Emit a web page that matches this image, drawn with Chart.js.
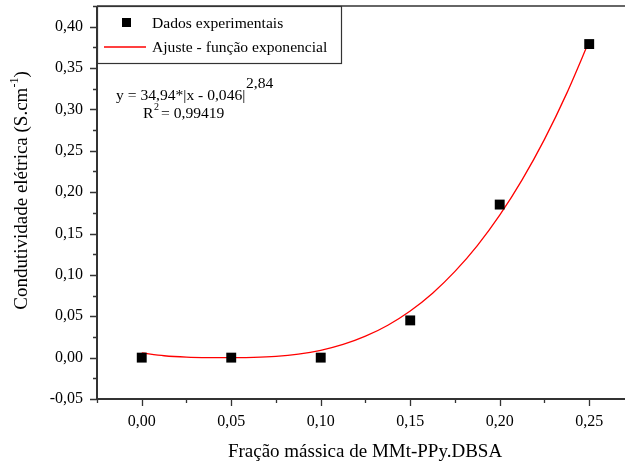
<!DOCTYPE html>
<html>
<head>
<meta charset="utf-8">
<script src="https://cdn.jsdelivr.net/npm/chart.js@4.4.1/dist/chart.umd.min.js"></script>
<style>
  html, body { margin: 0; padding: 0; background: #fff; }
  #wrap { width: 625px; height: 463px; position: relative; }
</style>
</head>
<body>
<div id="wrap"><canvas id="chart"></canvas></div>
<script>
// measured points
const fracX = [0, 0.05, 0.10, 0.15, 0.20, 0.25]
const condY = [0, 0, 0, 0.045, 0.185, 0.379]

// fitted curve
const fitX = [0, 0.0125, 0.025, 0.0375, 0.05, 0.0625, 0.075, 0.0875, 0.1, 0.1125, 0.125,
  0.1375, 0.15, 0.1625, 0.175, 0.1875, 0.2, 0.2125, 0.225, 0.2375, 0.25]
const fitY = [0.0056, 0.0023, 0.0006, 0.0000, 0.0000, 0.0003, 0.0015, 0.0042, 0.0088, 0.0159, 0.0259,
  0.0392, 0.0564, 0.0779, 0.1042, 0.1354, 0.1722, 0.2149, 0.2638, 0.3197, 0.3826]

const xTicks = [0, 0.05, 0.10, 0.15, 0.20, 0.25]
const yTicks = [-0.05, 0, 0.05, 0.10, 0.15, 0.20, 0.25, 0.30, 0.35, 0.40]

const serif = "'Liberation Serif', 'Times New Roman', serif"
const axisColor = "#333"

function fmt(v) {
  return v.toFixed(2).replace(".", ",").replace("-0,00", "0,00")
}

function noPad(s) {
  s.paddingLeft = 0
  s.paddingRight = 0
  s.paddingTop = 0
  s.paddingBottom = 0
}

// axis lines, tick marks, titles, legend box and fit equation
const decor = {
  id: "decor",
  afterDraw(chart) {
    const { ctx, chartArea: a, scales } = chart
    const xs = scales.x, ys = scales.y
    ctx.save()
    ctx.strokeStyle = axisColor
    ctx.lineWidth = 2
    ctx.beginPath()
    ctx.moveTo(a.left, a.top)
    ctx.lineTo(a.left, a.bottom)
    ctx.lineTo(a.right, a.bottom)
    ctx.stroke()
    ctx.lineWidth = 1.5
    ctx.beginPath()
    ctx.moveTo(a.left, a.top)
    ctx.lineTo(a.right, a.top)
    ctx.stroke()

    ctx.lineWidth = 1.3
    ctx.beginPath()
    yTicks.forEach((v) => {
      const py = Math.round(ys.getPixelForValue(v)) + 0.5
      ctx.moveTo(a.left, py); ctx.lineTo(a.left - 7, py)
      const pm = Math.round(ys.getPixelForValue(v + 0.025)) + 0.5
      if (pm > a.top) { ctx.moveTo(a.left, pm); ctx.lineTo(a.left - 4, pm) }
    })
    xTicks.forEach((v) => {
      const px = Math.round(xs.getPixelForValue(v)) + 0.5
      ctx.moveTo(px, a.bottom); ctx.lineTo(px, a.bottom + 7)
      const pm = Math.round(xs.getPixelForValue(v - 0.025)) + 0.5
      ctx.moveTo(pm, a.bottom); ctx.lineTo(pm, a.bottom + 4)
    })
    ctx.stroke()

    // axis titles
    ctx.fillStyle = "#000"
    ctx.font = "19px " + serif
    ctx.textAlign = "center"
    ctx.textBaseline = "alphabetic"
    ctx.fillText("Fração mássica de MMt-PPy.DBSA", 365, 457)

    const t1 = "Condutividade elétrica (S.cm", t2 = "-1", t3 = ")"
    ctx.font = "19px " + serif
    const w1 = ctx.measureText(t1).width, w3 = ctx.measureText(t3).width
    ctx.font = "12px " + serif
    const w2 = ctx.measureText(t2).width
    const total = w1 + w2 + w3
    ctx.translate(27, 190.5)
    ctx.rotate(-Math.PI / 2)
    ctx.textAlign = "left"
    let cx = -total / 2
    ctx.font = "19px " + serif
    ctx.fillText(t1, cx, 0)
    cx += w1
    ctx.font = "12px " + serif
    ctx.fillText(t2, cx, -9)
    cx += w2
    ctx.font = "19px " + serif
    ctx.fillText(t3, cx, 0)
    ctx.setTransform(1, 0, 0, 1, 0, 0)

    // legend box
    const lx = a.left, ly = a.top, lw = 244, lh = 57
    ctx.fillStyle = "#fff"
    ctx.fillRect(lx, ly, lw, lh)
    ctx.strokeStyle = axisColor
    ctx.lineWidth = 1.2
    ctx.strokeRect(lx + 0.5, ly + 0.5, lw, lh)
    ctx.fillStyle = "#000"
    ctx.fillRect(lx + 25, ly + 12, 9, 9)
    ctx.strokeStyle = "#ff0000"
    ctx.lineWidth = 1.6
    ctx.beginPath()
    ctx.moveTo(lx + 7, ly + 41)
    ctx.lineTo(lx + 49, ly + 41)
    ctx.stroke()
    ctx.textAlign = "left"
    ctx.font = "15.6px " + serif
    ctx.fillText("Dados experimentais", lx + 55, ly + 22)
    ctx.fillText("Ajuste - função exponencial", lx + 55, ly + 46)

    // equation
    ctx.fillText("y = 34,94*|x - 0,046|", 116, 100)
    ctx.fillText("2,84", 246, 88)
    ctx.fillText("R", 143, 118)
    ctx.font = "10px " + serif
    ctx.fillText("2", 154, 110)
    ctx.font = "15.6px " + serif
    ctx.fillText("= 0,99419", 161, 118)
    ctx.restore()
  }
}

new Chart(document.getElementById("chart"), {
  type: "scatter",
  data: {
    datasets: [
      {
        label: "Ajuste - função exponencial",
        data: fitX.map((x, i) => ({ x, y: fitY[i] })),
        showLine: true,
        borderColor: "#ff0000",
        borderWidth: 1.3,
        pointRadius: 0,
        tension: 0.3,
        order: 1
      },
      {
        label: "Dados experimentais",
        data: fracX.map((x, i) => ({ x, y: condY[i] })),
        pointStyle: "rect",
        pointRadius: 7,
        backgroundColor: "#000",
        borderColor: "#000",
        borderWidth: 0,
        order: 0
      }
    ]
  },
  options: {
    responsive: true,
    maintainAspectRatio: false,
    animation: false,
    layout: { autoPadding: false, padding: { top: 6, left: 0, right: 0, bottom: 0 } },
    plugins: { legend: { display: false }, tooltip: { enabled: false } },
    scales: {
      x: {
        type: "linear",
        min: -0.025,
        max: 0.27,
        afterBuildTicks: (s) => { s.ticks = xTicks.map((v) => ({ value: v })) },
        afterFit: (s) => { s.height = 64; noPad(s) },
        grid: { display: false, drawTicks: false },
        border: { display: false },
        ticks: { padding: 13, color: "#000", font: { family: serif, size: 16 }, callback: (v) => fmt(v), maxRotation: 0 }
      },
      y: {
        type: "linear",
        min: -0.05,
        max: 0.425,
        afterBuildTicks: (s) => { s.ticks = yTicks.map((v) => ({ value: v })) },
        afterFit: (s) => { s.width = 97; noPad(s) },
        grid: { display: false, drawTicks: false },
        border: { display: false },
        ticks: { padding: 14, color: "#000", font: { family: serif, size: 16 }, callback: (v) => fmt(v) }
      }
    }
  },
  plugins: [decor]
})
</script>
</body>
</html>
